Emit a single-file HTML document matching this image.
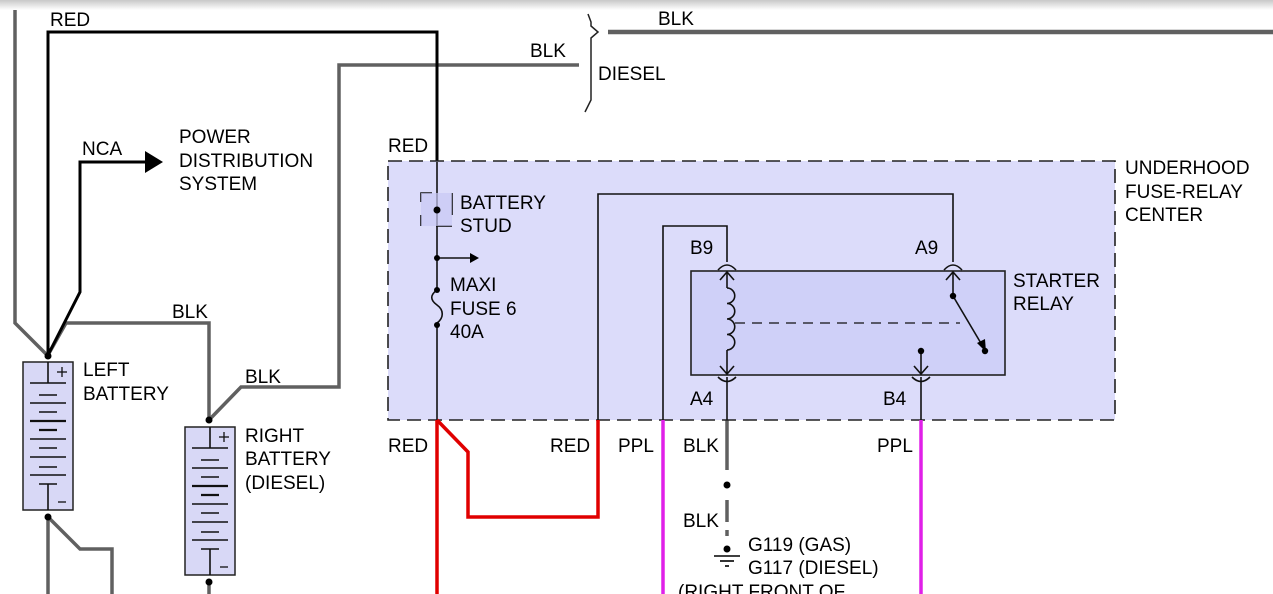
<!DOCTYPE html>
<html><head><meta charset="utf-8"><style>
html,body{margin:0;padding:0;background:#fff;}
svg{display:block;}
text{font-family:"Liberation Sans",sans-serif;font-size:19px;fill:#000;}
</style></head><body>
<svg width="1273" height="594" viewBox="0 0 1273 594" xmlns="http://www.w3.org/2000/svg">
<defs>
<linearGradient id="tg" x1="0" y1="0" x2="0" y2="1"><stop offset="0" stop-color="#c8c8c8"/><stop offset="1" stop-color="#fff"/></linearGradient>
<g id="bat">
<rect x="23" y="362" width="50" height="148" fill="#d8d8f6" stroke="#222" stroke-width="1.5"/>
<g stroke="#111" stroke-width="1.6">
<line x1="48" y1="362" x2="48" y2="383"/>
<line x1="30" y1="383" x2="66" y2="383"/>
<line x1="39" y1="395" x2="57" y2="395"/>
<line x1="30" y1="403" x2="66" y2="403"/>
<line x1="39" y1="412" x2="57" y2="412"/>
<line x1="30" y1="421" x2="66" y2="421" stroke-width="2.2"/>
<line x1="39" y1="430" x2="57" y2="430" stroke-width="2.2"/>
<line x1="30" y1="439" x2="66" y2="439"/>
<line x1="39" y1="448" x2="57" y2="448"/>
<line x1="30" y1="457" x2="66" y2="457"/>
<line x1="39" y1="467" x2="57" y2="467"/>
<line x1="30" y1="475" x2="66" y2="475"/>
<line x1="39" y1="484" x2="57" y2="484"/>
<line x1="48" y1="484" x2="48" y2="510"/>
<line x1="57" y1="372" x2="67" y2="372" stroke-width="1.3"/>
<line x1="62" y1="367" x2="62" y2="377" stroke-width="1.3"/>
<line x1="58" y1="502" x2="66" y2="502" stroke-width="1.3"/>
</g>
</g>
</defs>
<rect x="0" y="0" width="1273" height="10" fill="url(#tg)"/>

<g fill="none" stroke="#606060" stroke-width="3.5">
<polyline points="15,10 15,323 46,354"/>
<polyline points="48,355 66,323 209,323 209,420"/>
<polyline points="579,65 339,65 339,387 241,387 209,420"/>
<polyline points="48,517 48,594"/>
<polyline points="48,517 80,549 112,549 112,594"/>
<polyline points="209,582 209,594"/>
<line x1="608" y1="32" x2="1273" y2="32" stroke-width="4.5"/>
<line x1="727" y1="420" x2="727" y2="470"/>
<line x1="727" y1="500" x2="727" y2="522"/>
<line x1="727" y1="530" x2="727" y2="536"/>
</g>
<g fill="none" stroke="#000" stroke-width="3">
<polyline points="48,355 48,32 437,32 437,162"/>
<polyline points="48,355 80,292 80,162 145,162"/>
</g>
<polygon points="145,151 163,162 145,173" fill="#000"/>
<path d="M588,14 L591,22 L591,26 L598,32 L591,38 L591,100 L585,112" fill="none" stroke="#222" stroke-width="1.5"/>

<rect x="388" y="161" width="727" height="259" fill="#dcdcfa" stroke="#222" stroke-width="1.6" stroke-dasharray="14,7"/>
<g fill="none" stroke="#111" stroke-width="1.6">
<line x1="437" y1="162" x2="437" y2="290"/>
<line x1="437" y1="325" x2="437" y2="420"/>
<path d="M437,290 C430,295 430,300 437,305 C444,310 444,318 437,323"/>
<polyline points="598,420 598,194 953,194 953,262"/>
<polyline points="663,420 663,226 727,226 727,262"/>
<path d="M421,202 L421,193 L432,193"/><path d="M452,193 L452,215"/><path d="M421,215 L421,226"/><path d="M436,226 L452,226"/>
<line x1="437" y1="258" x2="472" y2="258"/>
</g>
<rect x="421" y="193" width="31" height="33" fill="#c8c8f4" opacity="0.7"/>
<polygon points="470,253 479,258 470,263" fill="#000"/>
<circle cx="437" cy="210" r="3.5" fill="#000"/>
<circle cx="437" cy="258" r="3" fill="#000"/>
<circle cx="437" cy="290" r="3" fill="#000"/>
<circle cx="437" cy="325" r="3" fill="#000"/>

<rect x="691" y="271" width="314" height="104" fill="#cfd0f8" stroke="#222" stroke-width="1.6"/>
<g fill="none" stroke="#111" stroke-width="1.6">
<path d="M718,270 Q727,260 736,270"/><path d="M944,270 Q953,260 962,270"/>
<path d="M718,377 Q727,386 736,377"/><path d="M912,377 Q921,386 930,377"/>
<line x1="727" y1="377" x2="727" y2="420"/><line x1="921" y1="377" x2="921" y2="420"/>
<line x1="727" y1="272" x2="727" y2="288"/><line x1="727" y1="350" x2="727" y2="374"/>
<path d="M727,288 a5,5 0 0 1 0,15.5 a5,5 0 0 1 0,15.5 a5,5 0 0 1 0,15.5 a5,5 0 0 1 0,15.5"/>
<polyline points="720,280 727,272 734,280"/><polyline points="720,366 727,374 734,366"/>
<line x1="953" y1="272" x2="953" y2="296"/><polyline points="946,280 953,272 960,280"/>
<line x1="953" y1="296" x2="982" y2="345"/>
<line x1="921" y1="351" x2="921" y2="374"/><polyline points="914,366 921,374 928,366"/>
<line x1="735" y1="323" x2="960" y2="323" stroke-dasharray="10,7" stroke-width="1.2"/>
</g>
<polygon points="977,343 986,352 985,339" fill="#000"/>
<circle cx="953" cy="296" r="3.2" fill="#000"/>
<circle cx="985" cy="351" r="3.2" fill="#000"/>
<circle cx="921" cy="351" r="3.2" fill="#000"/>

<g fill="none" stroke-width="3.5">
<polyline points="437,420 437,594" stroke="#e00000"/>
<polyline points="437,420 468,452 468,517 598,517 598,420" stroke="#e00000"/>
<line x1="663" y1="420" x2="663" y2="594" stroke="#e020e8"/>
<line x1="921" y1="420" x2="921" y2="594" stroke="#e020e8"/>
</g>
<circle cx="727" cy="485" r="3.5" fill="#000"/>
<circle cx="727" cy="549" r="3.5" fill="#000"/>
<g stroke="#000" stroke-width="1.6"><line x1="714" y1="556" x2="740" y2="556"/><line x1="720" y1="561" x2="734" y2="561"/><line x1="725" y1="566" x2="729" y2="566"/></g>

<use href="#bat"/>
<use href="#bat" transform="translate(162,65)"/>
<circle cx="48" cy="356" r="3.5" fill="#000"/>
<circle cx="48" cy="517" r="3.5" fill="#000"/>
<circle cx="209" cy="420" r="3.5" fill="#000"/>
<circle cx="209" cy="582" r="3.5" fill="#000"/>

<text x="50" y="26">RED</text>
<text x="658" y="25">BLK</text>
<text x="530" y="57">BLK</text>
<text x="598" y="80">DIESEL</text>
<text x="82" y="155">NCA</text>
<text x="179" y="143">POWER</text>
<text x="179" y="167">DISTRIBUTION</text>
<text x="179" y="190">SYSTEM</text>
<text x="388" y="152">RED</text>
<text x="460" y="209">BATTERY</text>
<text x="460" y="232">STUD</text>
<text x="450" y="291">MAXI</text>
<text x="450" y="315">FUSE 6</text>
<text x="450" y="338">40A</text>
<text x="1125" y="174">UNDERHOOD</text>
<text x="1125" y="198">FUSE-RELAY</text>
<text x="1125" y="221">CENTER</text>
<text x="690" y="254">B9</text>
<text x="915" y="254">A9</text>
<text x="1013" y="287">STARTER</text>
<text x="1013" y="310">RELAY</text>
<text x="690" y="405">A4</text>
<text x="883" y="405">B4</text>
<text x="172" y="318">BLK</text>
<text x="245" y="383">BLK</text>
<text x="83" y="376">LEFT</text>
<text x="83" y="400">BATTERY</text>
<text x="245" y="442">RIGHT</text>
<text x="245" y="465">BATTERY</text>
<text x="245" y="489">(DIESEL)</text>
<text x="388" y="452">RED</text>
<text x="550" y="452">RED</text>
<text x="618" y="452">PPL</text>
<text x="683" y="452">BLK</text>
<text x="877" y="452">PPL</text>
<text x="683" y="527">BLK</text>
<text x="748" y="551">G119 (GAS)</text>
<text x="748" y="574">G117 (DIESEL)</text>
<text x="678" y="598">(RIGHT FRONT OF</text>
</svg>
</body></html>
